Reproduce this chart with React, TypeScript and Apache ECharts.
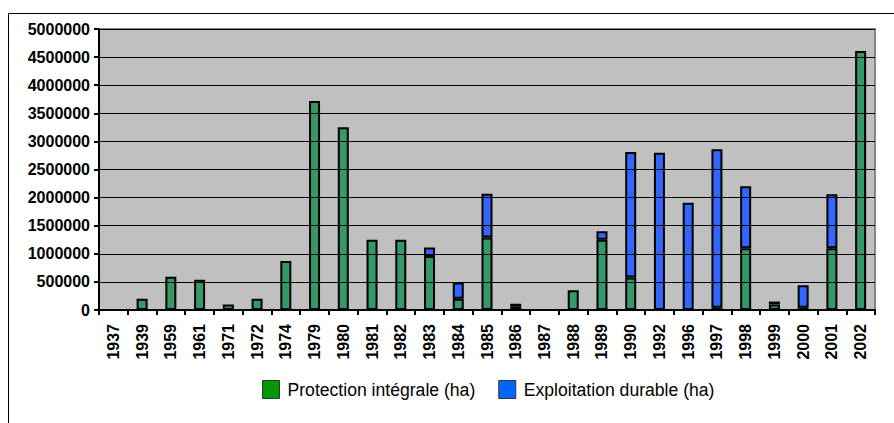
import React, { useEffect, useRef } from "react";
import * as echarts from "echarts";

const years = ["1937", "1939", "1959", "1961", "1971", "1972", "1974", "1979", "1980", "1981", "1982", "1983", "1984", "1985", "1986", "1987", "1988", "1989", "1990", "1992", "1996", "1997", "1998", "1999", "2000", "2001", "2002"];
const protection = [0, 200000, 590000, 540000, 100000, 200000, 870000, 3720000, 3250000, 1250000, 1250000, 960000, 200000, 1290000, 60000, 0, 350000, 1250000, 580000, 0, 0, 40000, 1100000, 100000, 40000, 1100000, 4610000];
const exploitation = [0, 0, 0, 0, 0, 0, 0, 0, 0, 0, 0, 150000, 290000, 780000, 50000, 0, 0, 150000, 2230000, 2800000, 1910000, 2820000, 1100000, 50000, 400000, 960000, 0];
const seriesNames = ["Protection intégrale (ha)", "Exploitation durable (ha)"];

const FONT = "'Liberation Sans', Arial, sans-serif";

export default function App() {
  const ref = useRef<HTMLDivElement>(null);
  useEffect(() => {
    if (!ref.current) return;
    const chart = echarts.init(ref.current, null, { renderer: "svg" });
    const toData = (arr: number[]) => arr.map((v) => (v === 0 ? null : v));
    chart.setOption({
      animation: false,
      backgroundColor: "#ffffff",
      textStyle: { fontFamily: FONT },
      grid: {
        left: 99,
        right: 19,
        top: 29,
        bottom: 113,
        show: true,
        backgroundColor: "#C0C0C0",
        borderColor: "#858585",
        borderWidth: 2,
      },
      legend: {
        left: 262,
        top: 380,
        padding: 0,
        itemWidth: 17,
        itemHeight: 18,
        itemGap: 23,
        icon: "rect",
        textStyle: { fontFamily: FONT, fontSize: 17.6, color: "#000", padding: [0, 0, 0, 3] },
        data: [
          { name: seriesNames[0], itemStyle: { color: "#009900", borderColor: "#333", borderWidth: 1 } },
          { name: seriesNames[1], itemStyle: { color: "#0066FF", borderColor: "#333", borderWidth: 1 } },
        ],
      },
      xAxis: {
        type: "category",
        data: years,
        boundaryGap: true,
        axisLine: { show: true, lineStyle: { color: "#000", width: 2 } },
        axisTick: { show: true, length: 5, lineStyle: { color: "#000", width: 2 } },
        axisLabel: {
          rotate: 90,
          interval: 0,
          margin: 14,
          color: "#000",
          fontFamily: FONT,
          fontSize: 16,
          fontWeight: "bold",
        },
        splitLine: { show: false },
        z: 5,
      },
      yAxis: {
        type: "value",
        min: 0,
        max: 5000000,
        interval: 500000,
        axisLine: { show: true, lineStyle: { color: "#000", width: 2 } },
        axisTick: { show: true, length: 5, lineStyle: { color: "#000", width: 2 } },
        axisLabel: {
          margin: 9,
          color: "#000",
          fontFamily: FONT,
          fontSize: 16,
          fontWeight: "bold",
          formatter: (v: number) => String(v),
        },
        splitLine: { show: true, lineStyle: { color: "#000", width: 1.2 } },
        z: 5,
      },
      series: [
        {
          name: seriesNames[0],
          type: "bar",
          stack: "total",
          barWidth: 11,
          data: toData(protection),
          itemStyle: { color: "#339966", borderColor: "#000", borderWidth: 2 },
          z: 3,
        },
        {
          name: seriesNames[1],
          type: "bar",
          stack: "total",
          barWidth: 11,
          data: toData(exploitation),
          itemStyle: { color: "#3366FF", borderColor: "#000", borderWidth: 2 },
          z: 3,
        },
      ],
      graphic: [
        {
          type: "rect",
          silent: true,
          shape: { x: 8.5, y: 13.5, width: 2000, height: 2000 },
          style: { fill: "none", stroke: "#000", lineWidth: 1 },
          z: -1,
        },
      ],
    });
    return () => chart.dispose();
  }, []);
  return <div ref={ref} style={{ position: "fixed", left: 0, top: 0, width: 894, height: 423 }} />;
}
